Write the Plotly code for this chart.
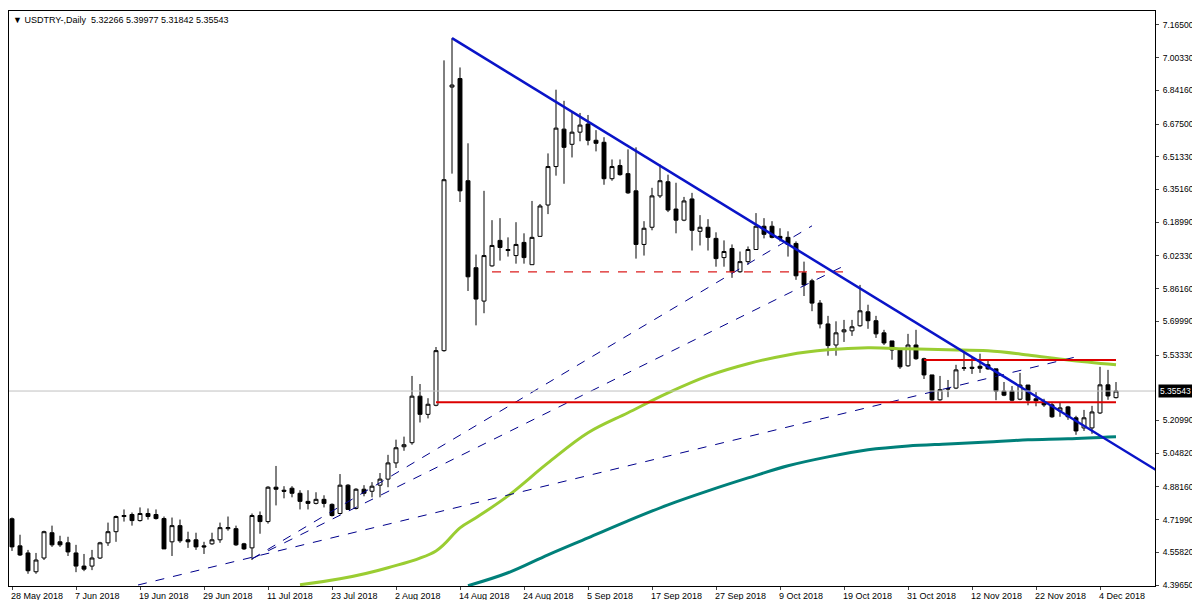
import pandas as pd
import plotly.graph_objects as go

# daily USDTRY candles, 28 May 2018 .. 6 Dec 2018
dates = pd.bdate_range("2018-05-28", periods=139)
bar = list(range(1, 140))

opens = [4.724, 4.590, 4.555, 4.462, 4.530, 4.655, 4.610, 4.605, 4.555, 4.490,
         4.490, 4.530, 4.605, 4.660, 4.735, 4.745, 4.715, 4.750, 4.745, 4.725,
         4.610, 4.690, 4.620, 4.620, 4.590, 4.600, 4.620, 4.675, 4.675, 4.600,
         4.580, 4.740, 4.710, 4.880, 4.865, 4.875, 4.850, 4.810, 4.800, 4.820,
         4.795, 4.750, 4.890, 4.775, 4.870, 4.860, 4.890, 4.920, 5.000, 5.080,
         5.100, 5.330, 5.240, 5.285, 5.555, 6.858, 6.900, 6.395, 5.965, 5.800,
         5.974, 6.100, 6.055, 6.025, 6.090, 5.980, 6.120, 6.275, 6.465, 6.650,
         6.575, 6.635, 6.675, 6.595, 6.585, 6.405, 6.470, 6.430, 6.345, 6.080,
         6.165, 6.320, 6.390, 6.255, 6.200, 6.305, 6.145, 6.165, 6.110, 6.015,
         6.060, 5.945, 5.995, 6.055, 6.170, 6.170, 6.120, 6.115, 6.085, 5.940,
         5.900, 5.790, 5.687, 5.583, 5.648, 5.653, 5.678, 5.747, 5.703, 5.643,
         5.603, 5.558, 5.480, 5.583, 5.515, 5.435, 5.312, 5.365, 5.370, 5.468,
         5.473, 5.478, 5.485, 5.465, 5.355, 5.355, 5.315, 5.385, 5.317, 5.302,
         5.287, 5.257, 5.277, 5.223, 5.173, 5.173, 5.247, 5.386, 5.32266]
highs = [4.730, 4.645, 4.570, 4.555, 4.665, 4.690, 4.640, 4.635, 4.595, 4.550,
         4.570, 4.610, 4.705, 4.740, 4.770, 4.755, 4.780, 4.775, 4.770, 4.735,
         4.730, 4.720, 4.660, 4.655, 4.610, 4.655, 4.705, 4.735, 4.690, 4.605,
         4.750, 4.760, 4.885, 4.985, 4.885, 4.885, 4.865, 4.865, 4.855, 4.840,
         4.800, 4.945, 4.895, 4.875, 4.890, 4.905, 4.950, 5.040, 5.115, 5.130,
         5.430, 5.390, 5.320, 5.573, 6.990, 7.100, 6.955, 6.580, 6.030, 6.345,
         6.200, 6.210, 6.115, 6.190, 6.135, 6.295, 6.280, 6.530, 6.845, 6.790,
         6.740, 6.730, 6.720, 6.645, 6.610, 6.500, 6.500, 6.550, 6.560, 6.195,
         6.360, 6.475, 6.425, 6.385, 6.315, 6.335, 6.225, 6.205, 6.140, 6.100,
         6.080, 6.045, 6.070, 6.235, 6.210, 6.195, 6.160, 6.145, 6.095, 5.995,
         5.910, 5.805, 5.727, 5.700, 5.707, 5.707, 5.880, 5.782, 5.727, 5.658,
         5.603, 5.563, 5.638, 5.658, 5.520, 5.435, 5.430, 5.410, 5.485, 5.545,
         5.520, 5.540, 5.510, 5.465, 5.400, 5.380, 5.445, 5.385, 5.350, 5.317,
         5.302, 5.297, 5.282, 5.233, 5.262, 5.282, 5.475, 5.460, 5.39977]
lows = [4.565, 4.540, 4.452, 4.452, 4.520, 4.585, 4.585, 4.540, 4.460, 4.465,
        4.470, 4.525, 4.590, 4.610, 4.710, 4.690, 4.710, 4.720, 4.720, 4.575,
        4.540, 4.605, 4.580, 4.570, 4.550, 4.595, 4.605, 4.665, 4.590, 4.570,
        4.520, 4.650, 4.700, 4.790, 4.825, 4.830, 4.770, 4.770, 4.795, 4.780,
        4.735, 4.745, 4.770, 4.770, 4.835, 4.830, 4.830, 4.880, 4.975, 5.060,
        5.090, 5.200, 5.220, 5.280, 5.550, 6.430, 6.290, 5.850, 5.680, 5.740,
        5.970, 6.000, 6.020, 5.985, 5.985, 5.980, 6.120, 6.230, 6.420, 6.380,
        6.510, 6.590, 6.570, 6.540, 6.375, 6.395, 6.420, 6.330, 6.010, 6.025,
        6.150, 6.310, 6.240, 6.135, 6.195, 6.050, 6.075, 6.050, 5.970, 5.970,
        5.915, 5.940, 5.980, 6.055, 6.110, 6.110, 6.095, 6.020, 5.905, 5.825,
        5.750, 5.665, 5.530, 5.530, 5.598, 5.628, 5.673, 5.663, 5.618, 5.583,
        5.510, 5.465, 5.475, 5.510, 5.415, 5.307, 5.307, 5.325, 5.365, 5.455,
        5.440, 5.445, 5.460, 5.310, 5.330, 5.305, 5.310, 5.285, 5.280, 5.277,
        5.223, 5.228, 5.213, 5.139, 5.158, 5.144, 5.242, 5.312, 5.31842]
closes = [4.585, 4.545, 4.467, 4.520, 4.660, 4.595, 4.595, 4.560, 4.490, 4.475,
          4.530, 4.605, 4.660, 4.735, 4.740, 4.715, 4.750, 4.735, 4.725, 4.575,
          4.690, 4.615, 4.610, 4.585, 4.585, 4.620, 4.680, 4.680, 4.595, 4.575,
          4.740, 4.710, 4.880, 4.870, 4.860, 4.850, 4.810, 4.800, 4.820, 4.800,
          4.740, 4.890, 4.770, 4.870, 4.850, 4.885, 4.920, 5.000, 5.075, 5.090,
          5.330, 5.240, 5.290, 5.555, 6.400, 6.868, 6.345, 5.920, 5.810, 6.025,
          6.075, 6.065, 6.050, 6.080, 6.015, 6.115, 6.270, 6.465, 6.655, 6.560,
          6.635, 6.670, 6.595, 6.580, 6.405, 6.465, 6.425, 6.335, 6.080, 6.160,
          6.320, 6.395, 6.250, 6.200, 6.295, 6.150, 6.165, 6.115, 6.010, 6.045,
          5.945, 5.995, 6.055, 6.170, 6.130, 6.115, 6.110, 6.080, 5.925, 5.880,
          5.790, 5.687, 5.580, 5.643, 5.658, 5.673, 5.752, 5.703, 5.638, 5.593,
          5.558, 5.475, 5.583, 5.515, 5.435, 5.312, 5.362, 5.367, 5.460, 5.470,
          5.468, 5.468, 5.465, 5.355, 5.335, 5.310, 5.385, 5.310, 5.307, 5.287,
          5.228, 5.272, 5.228, 5.158, 5.223, 5.252, 5.386, 5.331, 5.35543]

# moving averages, sampled every 5 bars
ma_fast_bar = [37, 42, 48, 54, 57, 59, 63, 68, 73, 78, 83, 88, 93, 98, 103, 108, 113, 118, 123, 128, 133, 139]
ma_fast = [4.398, 4.427, 4.482, 4.565, 4.679, 4.729, 4.837, 5.000, 5.149, 5.248, 5.346,
           5.430, 5.490, 5.534, 5.559, 5.569, 5.564, 5.559, 5.554, 5.534, 5.509, 5.485]
ma_slow_bar = [58, 63, 68, 73, 78, 83, 88, 93, 98, 103, 108, 113, 118, 123, 128, 133, 139]
ma_slow = [4.393, 4.457, 4.546, 4.630, 4.714, 4.793, 4.862, 4.926, 4.986, 5.030, 5.065,
           5.084, 5.094, 5.104, 5.114, 5.119, 5.129]

# hand drawn objects: (bar, price) end points
down_trend = [(56, 7.100), (144, 4.965)]
support = [(54, 5.300), (139, 5.300)]
resistance = [(115, 5.509), (139, 5.509)]
dashed_level = [(61, 5.944), (105, 5.944)]
fan_lines = [[(16.75, 4.3965), (134.5, 5.529)],
             [(31, 4.526), (105, 5.974)],
             [(31, 4.526), (101, 6.172)]]

price_ticks = [7.16500, 7.00330, 6.84160, 6.67500, 6.51330, 6.35160, 6.18990, 6.02330, 5.86160,
               5.69990, 5.53330, 5.20990, 5.04820, 4.88160, 4.71990, 4.55820, 4.39650]
date_bars = list(range(1, 140, 8))
date_labels = [d.strftime("%-d %b %Y") for d in dates[::8]]
last_price = 5.35543

fig = go.Figure()
fig.add_trace(go.Candlestick(
    x=bar, open=opens, high=highs, low=lows, close=closes,
    increasing=dict(line=dict(color="black", width=1), fillcolor="white"),
    decreasing=dict(line=dict(color="black", width=1), fillcolor="black"),
    whiskerwidth=0, hoverinfo="skip"))

fig.add_trace(go.Scatter(x=ma_fast_bar, y=ma_fast, mode="lines", line=dict(color="#9acd32", width=3, shape="spline")))
fig.add_trace(go.Scatter(x=ma_slow_bar, y=ma_slow, mode="lines", line=dict(color="#00807a", width=3, shape="spline")))


def seg(pts, color, width, dash="solid"):
    fig.add_trace(go.Scatter(x=[p[0] for p in pts], y=[p[1] for p in pts], mode="lines",
                             line=dict(color=color, width=width, dash=dash)))


fig.add_hline(y=last_price, line=dict(color="#c0c0c0", width=1))
for f in fan_lines:
    seg(f, "#00008b", 1, "dash")
seg(dashed_level, "#dc1e1e", 1.3, "dash")
seg(support, "#dc0000", 2)
seg(resistance, "#dc0000", 2)
seg(down_trend, "#0a14c8", 2.5)

for b, lab in zip(date_bars, date_labels):
    fig.add_annotation(x=max(b - 0.4, 0.65), y=0, yref="paper", yanchor="top", xanchor="left",
                       yshift=-3, text=lab, showarrow=False, font=dict(size=9, color="black"))

fig.add_annotation(x=1, xref="paper", y=last_price, xanchor="left", text=f"{last_price:.5f}",
                   showarrow=False, bgcolor="black", font=dict(size=8.5, color="white"), xshift=3,
                   borderpad=1)
fig.add_annotation(x=0, xref="paper", y=1, yref="paper", xanchor="left", yanchor="top",
                   text="▼ USDTRY-,Daily  5.32266 5.39977 5.31842 5.35543", showarrow=False,
                   font=dict(size=9, color="black"), xshift=2, yshift=-2)

fig.update_layout(
    width=1200, height=600, showlegend=False,
    plot_bgcolor="white", paper_bgcolor="white",
    margin=dict(l=1, r=53, t=3, b=22),
    font=dict(family="Liberation Sans", size=9, color="black"),
    xaxis=dict(range=[0.625, 143.875], rangeslider=dict(visible=False), showgrid=False,
               tickvals=date_bars, showticklabels=False, ticks="outside", ticklen=3,
               showline=True, linecolor="black", mirror=True, zeroline=False),
    yaxis=dict(side="right", range=[4.3916, 7.234], tickvals=price_ticks,
               ticktext=[f"{v:.5f}" for v in price_ticks], ticks="outside", ticklen=3,
               tickfont=dict(size=8.5), ticklabelstandoff=2,
               showgrid=False, showline=True, linecolor="black", mirror=True, zeroline=False),
)

fig.write_html("out.html")
